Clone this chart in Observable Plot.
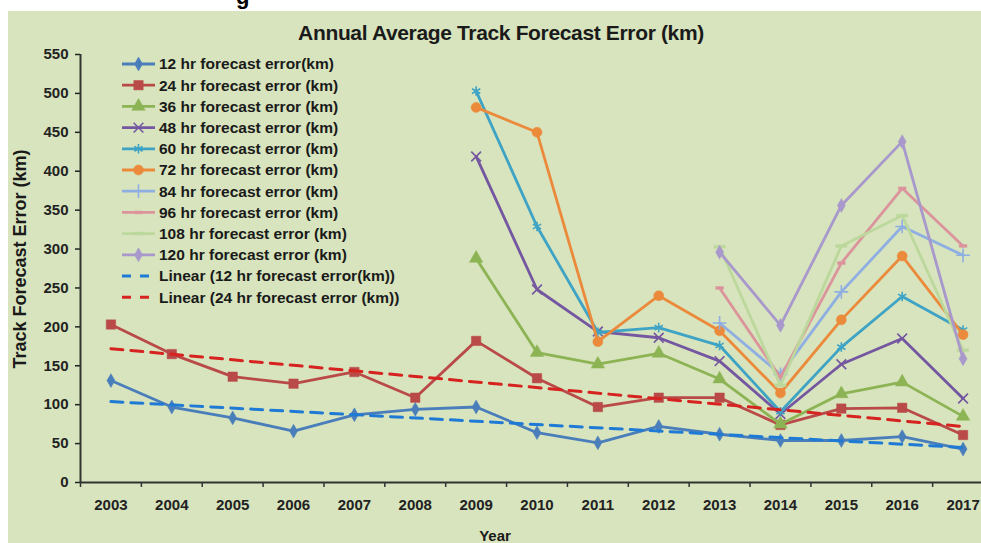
<!DOCTYPE html>
<html><head><meta charset="utf-8">
<script src="https://cdn.jsdelivr.net/npm/d3@7"></script>
<script src="https://cdn.jsdelivr.net/npm/@observablehq/plot@0.6"></script>
<style>
html,body{margin:0;padding:0}
body{background:#fff;width:981px;height:543px;overflow:hidden;position:relative;font-family:"Liberation Sans",Arial,sans-serif;color:#1a1a1a}
#bg{position:absolute;left:8px;top:11px;right:0;bottom:0;background:#d7e4bd}
#cut{position:absolute;left:236px;top:-14px;font-size:22px;line-height:22px;font-weight:bold;color:#000}
#chart{position:absolute;left:0;top:0}
#title{position:absolute;left:251px;width:500px;top:20px;text-align:center;font-family:"Liberation Sans",Arial,sans-serif;font-weight:bold;font-size:21px;letter-spacing:-0.35px;line-height:26px;white-space:nowrap;color:#1a1a1a}
#ylabel{position:absolute;left:20px;top:259px;transform:translate(-50%,-50%) rotate(-90deg);font-weight:bold;font-size:18px;white-space:nowrap}
#xlabel{position:absolute;left:495px;top:535px;transform:translate(-50%,-50%);font-weight:bold;font-size:15px;white-space:nowrap}
</style></head><body>
<div id="bg"></div>
<div id="cut">g</div>
<div id="chart"></div>
<div id="title">Annual Average Track Forecast Error (km)</div>
<div id="ylabel">Track Forecast Error (km)</div>
<div id="xlabel">Year</div>
<script>
// ---- data ----
const years = [2003,2004,2005,2006,2007,2008,2009,2010,2011,2012,2013,2014,2015,2016,2017];
const yearsFrom2009 = [2009,2010,2011,2012,2013,2014,2015,2016,2017];
const yearsFrom2013 = [2013,2014,2015,2016,2017];
const err12 = [131,97,83,66,87,94,97,64,51,72,62,54,54,59,43];
const err24 = [203,165,136,127,142,109,182,134,97,109,109,74,95,96,61];
const err36 = [288,167,152,166,133,75,114,129,85];
const err48 = [419,248,194,186,156,88,152,185,108];
const err60 = [503,329,193,199,176,91,174,239,196];
const err72 = [482,450,181,240,195,115,209,291,190];
const err84 = [205,139,245,329,292];
const err96 = [250,135,282,378,304];
const err108 = [303,125,304,343,170];
const err120 = [296,202,356,438,159];
const trendYears = [2003,2017];
const trend12 = [104,45];
const trend24 = [172,72];
const yTicks = [0,50,100,150,200,250,300,350,400,450,500,550];
const xTickMarks = [2002.5,2003.5,2004.5,2005.5,2006.5,2007.5,2008.5,2009.5,2010.5,2011.5,2012.5,2013.5,2014.5,2015.5,2016.5];
const seriesNames = ["12 hr forecast error(km)","24 hr forecast error (km)","36 hr forecast error (km)","48 hr forecast error (km)","60 hr forecast error (km)","72 hr forecast error (km)","84 hr forecast error (km)","96 hr forecast error (km)","108 hr forecast error (km)","120 hr forecast error (km)"];
const trendNames = ["Linear (12 hr forecast error(km))","Linear (24 hr forecast error (km))"];

// ---- styles ----
const dashShort = {draw(ctx, size){ const r=Math.sqrt(size/Math.PI); ctx.rect(-r*1.1,-1.4,r*2.2,2.8);} };
const dashLong = {draw(ctx, size){ const r=Math.sqrt(size/Math.PI); ctx.rect(-r*1.6,-1.4,r*3.2,2.8);} };
const styles = [
  {c:"#4a7ebb", sym:"diamond", r:4.2, filled:true},
  {c:"#b94a48", sym:"square", r:5.3, filled:true},
  {c:"#8db454", sym:"triangle", r:5, filled:true},
  {c:"#7457a0", sym:"times", r:4.5, filled:false},
  {c:"#3ea3c4", sym:"asterisk", r:4.5, filled:false},
  {c:"#ec8a3c", sym:"circle", r:5, filled:true},
  {c:"#8faee2", sym:"plus", r:4.5, filled:false},
  {c:"#dc949c", sym:dashShort, r:3.5, filled:true},
  {c:"#bcd89c", sym:dashLong, r:3.5, filled:true},
  {c:"#a898cc", sym:"diamond", r:4.2, filled:true}
];
const seriesX = [years,years,yearsFrom2009,yearsFrom2009,yearsFrom2009,yearsFrom2009,yearsFrom2013,yearsFrom2013,yearsFrom2013,yearsFrom2013];
const seriesY = [err12,err24,err36,err48,err60,err72,err84,err96,err108,err120];
const trendColors = ["#1f7ad6","#d6231f"];

const rows = s => seriesX[s].map((yr,i)=>({year:yr, value:seriesY[s][i]}));
const seriesMarks = [];
for (let s=0; s<10; s++){
  const st = styles[s];
  seriesMarks.push(Plot.line(rows(s), {x:"year", y:"value", stroke:st.c, strokeWidth:2.8}));
  seriesMarks.push(Plot.dot(rows(s), {x:"year", y:"value", symbol:st.sym, r:st.r,
     fill: st.filled ? st.c : "none", stroke: st.c, strokeWidth: st.filled ? 0.5 : 1.6}));
}
const trendMarks = [trend12,trend24].map((t,k)=>Plot.line(trendYears.map((yr,i)=>({year:yr,value:t[i]})),
   {x:"year", y:"value", stroke:trendColors[k], strokeWidth:3, strokeDasharray:"12,8"}));

const plot = Plot.plot({
  width:981, height:543,
  marginLeft:80, marginRight:0, marginTop:54, marginBottom:61,
  style:{background:"transparent", overflow:"visible", fontFamily:"Liberation Sans, Arial, sans-serif"},
  x:{type:"linear", domain:[2002.5,2017.5], range:[80,993]},
  y:{domain:[0,550]},
  marks:[
    Plot.axisY({ticks:yTicks, tickSize:5, tickPadding:7, fontSize:15, fontWeight:"bold", label:null, color:"#222", strokeWidth:1.5, tickFormat:d=>String(d)}),
    Plot.axisX({ticks:years, tickSize:0, tickPadding:17, fontSize:15, fontWeight:"bold", label:null, color:"#222", tickFormat:d=>String(d)}),
    Plot.axisX({ticks:xTickMarks, tickSize:5, label:null, color:"#333", strokeWidth:1.5, tickFormat:()=>""}),
    ...seriesMarks,
    ...trendMarks,
    Plot.ruleX([2002.5], {stroke:"#333", strokeWidth:2}),
    Plot.ruleY([0], {stroke:"#333", strokeWidth:2})
  ]
});
document.getElementById("chart").appendChild(plot);

// ---- legend ----
const svg = d3.select(plot);
const lg = svg.append("g").attr("font-family","Liberation Sans, Arial, sans-serif").attr("font-size",15.5).attr("font-weight","bold").attr("text-anchor","start");
const entries = seriesNames.map((n,i)=>({name:n, color:styles[i].c, st:styles[i], dash:false}))
  .concat(trendNames.map((n,k)=>({name:n, color:trendColors[k], st:null, dash:true})));
const symMap = {diamond:d3.symbolDiamond, square:d3.symbolSquare, triangle:d3.symbolTriangle, times:d3.symbolTimes, asterisk:d3.symbolAsterisk, circle:d3.symbolCircle, plus:d3.symbolPlus};
entries.forEach((e,i)=>{
  const yy = 64 + i*21.2;
  const g = lg.append("g").attr("transform",`translate(0,${yy})`);
  g.append("line").attr("x1",122).attr("x2",155).attr("y1",0).attr("y2",0)
    .attr("stroke",e.color).attr("stroke-width",e.dash?3:2.8).attr("stroke-dasharray",e.dash?"9,9":null);
  if (e.st){
    const type = typeof e.st.sym === "string" ? symMap[e.st.sym] : e.st.sym;
    const size = Math.PI*e.st.r*e.st.r;
    g.append("path").attr("transform","translate(138.5,0)").attr("d", d3.symbol(type,size)())
      .attr("fill", e.st.filled ? e.color : "none").attr("stroke", e.color).attr("stroke-width", e.st.filled?0.5:1.6);
  }
  g.append("text").attr("x",159).attr("y",0).attr("dy","0.35em").attr("text-anchor","start").attr("fill","#1a1a1a").text(e.name);
});
</script>
</body></html>
